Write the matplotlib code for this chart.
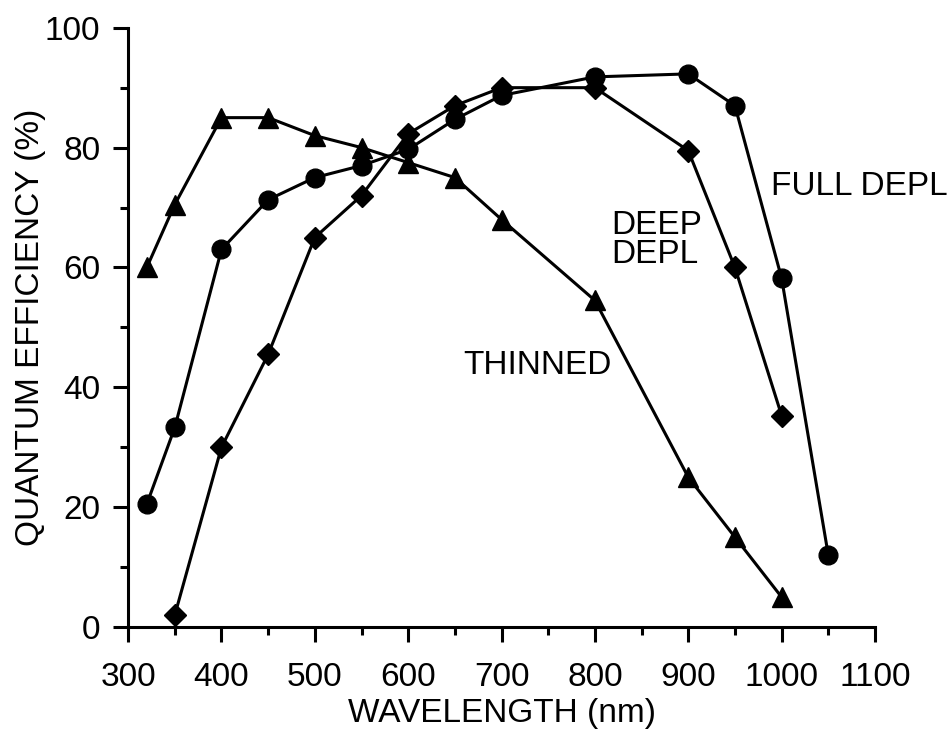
import matplotlib.pyplot as plt
from matplotlib.ticker import MultipleLocator

plt.rcParams["font.family"] = ["Liberation Sans", "DejaVu Sans"]

# THINNED (triangles)
thin_wl = [320, 350, 400, 450, 500, 550, 600, 650, 700, 800, 900, 950, 1000]
thin_qe = [60, 70.5, 85, 85, 82, 80, 77.5, 75, 68, 54.5, 25, 15, 5]

# FULL DEPL (circles)
full_wl = [320, 350, 400, 450, 500, 550, 600, 650, 700, 800, 900, 950, 1000, 1050]
full_qe = [20.5, 33.3, 63, 71.3, 75, 77, 79.7, 84.7, 88.7, 91.8, 92.3, 87, 58.2, 12]

# DEEP DEPL (diamonds)
deep_wl = [350, 400, 450, 500, 550, 600, 650, 700, 800, 900, 950, 1000]
deep_qe = [2, 30, 45.5, 65, 72, 82.3, 87, 90, 90, 79.5, 60, 35.3]

labels = ["THINNED", "DEEP\nDEPL", "FULL DEPL"]
label_pos = [(659, 43.7), (818, 64.6), (989, 73.5)]

fig = plt.figure(figsize=(9.49, 7.3), dpi=100)
ax = fig.add_axes([0.135, 0.141, 0.787, 0.821])

lw = 2.2
ax.plot(thin_wl, thin_qe, color="black", lw=lw, marker="^", ms=14, clip_on=False)
ax.plot(full_wl, full_qe, color="black", lw=lw, marker="o", ms=13.5, clip_on=False)
ax.plot(deep_wl, deep_qe, color="black", lw=lw, marker="D", ms=11, clip_on=False)

for text, (x, y) in zip(labels, label_pos):
    ax.text(x, y, text, fontsize=24, ha="left", va="center", linespacing=0.95)

ax.set_xlim(300, 1100)
ax.set_ylim(0, 100)
ax.xaxis.set_major_locator(MultipleLocator(100))
ax.xaxis.set_minor_locator(MultipleLocator(50))
ax.yaxis.set_major_locator(MultipleLocator(20))
ax.yaxis.set_minor_locator(MultipleLocator(10))

for side in ["top", "right"]:
    ax.spines[side].set_visible(False)
for side in ["left", "bottom"]:
    ax.spines[side].set_linewidth(2.2)

ax.tick_params(which="major", length=11, width=2.2, direction="out")
ax.tick_params(which="minor", length=6, width=2.2, direction="out")
ax.tick_params(axis="x", which="major", labelsize=24, pad=14)
ax.tick_params(axis="y", which="major", labelsize=24, pad=9)

ax.set_xlabel("WAVELENGTH (nm)", fontsize=24, labelpad=4)
ax.set_ylabel("QUANTUM EFFICIENCY (%)", fontsize=24, labelpad=-1)

fig.savefig("out.png", dpi=100)
